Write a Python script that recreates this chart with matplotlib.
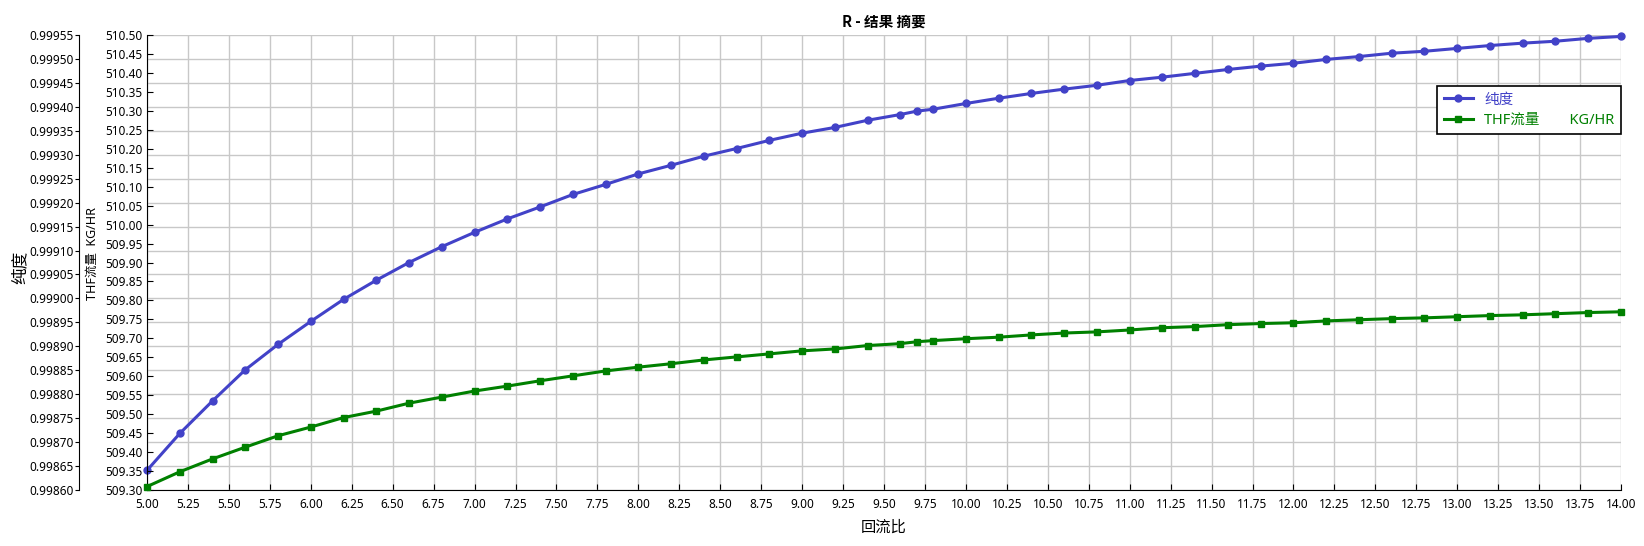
import matplotlib

matplotlib.use("Agg")
import matplotlib.pyplot as plt
from matplotlib.ticker import FormatStrFormatter, MultipleLocator

plt.rcParams["font.family"] = ["Noto Sans", "Noto Sans CJK SC", "DejaVu Sans"]

reflux_ratio = [
    5.0, 5.2, 5.4, 5.6, 5.8, 6.0, 6.2, 6.4, 6.6, 6.8, 7.0, 7.2, 7.4, 7.6,
    7.8, 8.0, 8.2, 8.4, 8.6, 8.8, 9.0, 9.2, 9.4, 9.6, 9.7, 9.8, 10.0,
    10.2, 10.4, 10.6, 10.8, 11.0, 11.2, 11.4, 11.6, 11.8, 12.0, 12.2,
    12.4, 12.6, 12.8, 13.0, 13.2, 13.4, 13.6, 13.8, 14.0,
]
purity = [
    0.998641, 0.998718, 0.998786, 0.998851, 0.998904, 0.998952, 0.998998,
    0.999038, 0.999075, 0.999108, 0.999138, 0.999166, 0.999191, 0.999217,
    0.999238, 0.999260, 0.999278, 0.999297, 0.999313, 0.999330, 0.999345,
    0.999357, 0.999372, 0.999384, 0.999391, 0.999395, 0.999407, 0.999418,
    0.999428, 0.999437, 0.999445, 0.999455, 0.999462, 0.999470, 0.999478,
    0.999485, 0.999491, 0.999499, 0.999505, 0.999512, 0.999516, 0.999522,
    0.999528, 0.999533, 0.999537, 0.999543, 0.999547,
]
thf_flow = [
    509.309, 509.348, 509.382, 509.413, 509.443, 509.466, 509.491,
    509.508, 509.529, 509.545, 509.561, 509.574, 509.588, 509.601,
    509.614, 509.624, 509.633, 509.643, 509.651, 509.659, 509.667,
    509.672, 509.681, 509.686, 509.691, 509.694, 509.699, 509.703,
    509.709, 509.714, 509.717, 509.722, 509.728, 509.731, 509.736,
    509.739, 509.741, 509.746, 509.749, 509.752, 509.754, 509.757,
    509.760, 509.762, 509.765, 509.768, 509.770,
]

BLUE = "#4242C8"
GREEN = "#008000"
GRID = "#C8C8C8"

fig = plt.figure(figsize=(16.44, 5.46), dpi=100)
ax_p = fig.add_axes([147 / 1644, 1 - 490 / 546, 1474 / 1644, 455 / 546])
ax_t = ax_p.twinx()

# purity axis: offset to the left, drives the horizontal grid
ax_p.set_xlim(5.0, 14.0)
ax_p.set_ylim(0.99860, 0.99955)
ax_p.yaxis.set_major_locator(MultipleLocator(0.00005))
ax_p.yaxis.set_major_formatter(FormatStrFormatter("%.5f"))
ax_p.xaxis.set_major_locator(MultipleLocator(0.25))
ax_p.xaxis.set_major_formatter(FormatStrFormatter("%.2f"))
ax_p.spines["left"].set_position(("outward", 49))  # points, ~68 px
for side in ("top", "right"):
    ax_p.spines[side].set_visible(False)
ax_p.grid(True, color=GRID, linewidth=1.0)
ax_p.set_axisbelow(True)
ax_p.tick_params(axis="y", direction="out", length=3, labelsize=8.5, pad=1)
ax_p.tick_params(axis="x", direction="in", length=4, labelsize=8.5, pad=6)

# THF flow axis: on the inner left spine
ax_t.set_ylim(509.30, 510.50)
ax_t.yaxis.set_major_locator(MultipleLocator(0.05))
ax_t.yaxis.set_major_formatter(FormatStrFormatter("%.2f"))
ax_t.yaxis.tick_left()
ax_t.yaxis.set_label_position("left")
ax_t.spines["left"].set_visible(True)
for side in ("top", "right", "bottom"):
    ax_t.spines[side].set_visible(False)
ax_t.tick_params(axis="y", direction="in", length=4, labelsize=8.5, pad=3)

l1, = ax_p.plot(reflux_ratio, purity, color=BLUE, linewidth=2.2,
                marker="o", markersize=5, label="纯度", clip_on=False, zorder=3)
l2, = ax_t.plot(reflux_ratio, thf_flow, color=GREEN, linewidth=2.2,
                marker="s", markersize=5, label="THF流量        KG/HR",
                clip_on=False, zorder=3)

ax_p.set_ylabel("纯度", fontsize=12)
ax_p.yaxis.set_label_coords(-0.080, 0.49)
ax_t.set_ylabel("THF流量  KG/HR", fontsize=9)
ax_t.yaxis.set_label_coords(-0.033, 0.52)
ax_p.set_xlabel("回流比", fontsize=11, labelpad=7)
ax_p.set_title("R - 结果 摘要", fontsize=10.5, fontweight="bold", pad=6,
               family=["Noto Sans CJK SC", "DejaVu Sans"])

leg = ax_t.legend(
    handles=[l1, l2],
    loc="upper left",
    bbox_to_anchor=((1437 - 147) / 1474, 1 - (86 - 35) / 455),
    fontsize=10.5,
    frameon=True,
    fancybox=False,
    edgecolor="black",
    framealpha=1.0,
    handlelength=2.0,
    borderpad=0.45,
    labelspacing=0.35,
    borderaxespad=0,
)
leg.get_frame().set_linewidth(1.2)
for text, color in zip(leg.get_texts(), [BLUE, GREEN]):
    text.set_color(color)

fig.savefig("out.png", dpi=100)
